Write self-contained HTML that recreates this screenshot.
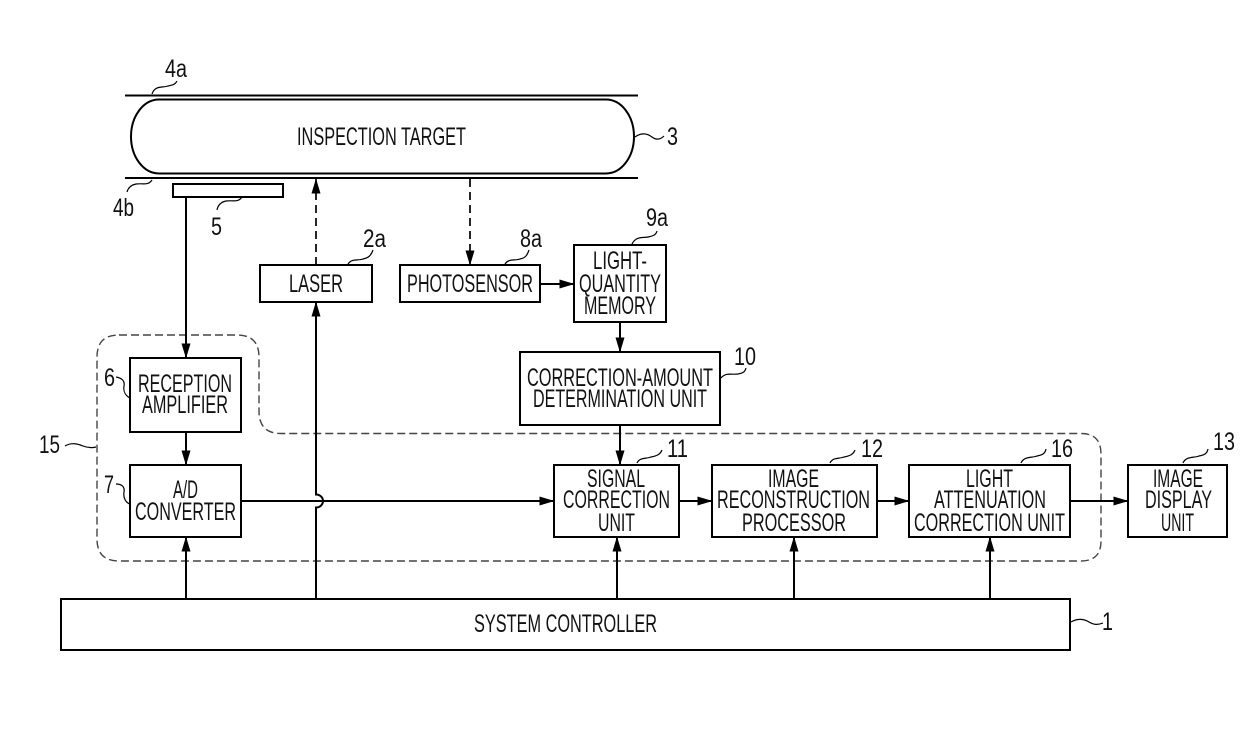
<!DOCTYPE html>
<html><head><meta charset="utf-8"><style>html,body{margin:0;padding:0;background:#fff}svg{display:block}
text{font-family:"Liberation Sans",sans-serif;font-size:25px;fill:#111;text-anchor:start}
</style></head><body>
<svg width="1240" height="745" viewBox="0 0 1240 745">
<defs><marker id="a" markerWidth="15" markerHeight="10" refX="14.5" refY="5" orient="auto" markerUnits="userSpaceOnUse"><path d="M0 0.5L15 5L0 9.5Z" fill="#000"/></marker></defs>
<g fill="none" stroke="#000" stroke-width="2">
<path d="M125 95.5H638M125 178H638"/>
<rect x="131" y="99.5" width="503" height="74" rx="28" ry="37"/>
<rect x="173" y="184" width="110" height="13"/>
<rect x="260" y="265" width="112" height="37"/>
<rect x="400" y="265" width="140" height="37"/>
<rect x="574" y="245" width="92" height="77"/>
<rect x="520" y="352" width="200" height="73"/>
<rect x="130" y="358" width="111" height="74"/>
<rect x="130" y="465" width="111" height="72"/>
<rect x="554" y="465" width="125" height="72"/>
<rect x="712" y="465" width="165" height="72"/>
<rect x="909" y="465" width="161" height="72"/>
<rect x="1128" y="465" width="99" height="72"/>
<rect x="61" y="599" width="1009" height="51"/>
<path stroke="#444" stroke-width="1.4" stroke-dasharray="8 4" d="M119 335H237Q259 335 259 357V411Q259 433.500 281 433.500H1081Q1101 433.500 1101 454V541Q1101 561 1081 561H119Q97 561 97 539V357Q97 335 119 335Z"/>
<path d="M186 197V358" marker-end="url(#a)"/>
<path d="M186 432V465" marker-end="url(#a)"/>
<path d="M186 599V537" marker-end="url(#a)"/>
<path d="M316 599V507.500A7 6.500 0 0 0 316 494.500V302" marker-end="url(#a)"/>
<path d="M316 265V179" stroke-width="1.7" stroke-dasharray="8 5" marker-end="url(#a)"/>
<path d="M470 179V265" stroke-width="1.7" stroke-dasharray="8 5" marker-end="url(#a)"/>
<path d="M540 284H574" marker-end="url(#a)"/>
<path d="M620 322V352" marker-end="url(#a)"/>
<path d="M620 425V465" marker-end="url(#a)"/>
<path d="M241 501H554" marker-end="url(#a)"/>
<path d="M679 501H712" marker-end="url(#a)"/>
<path d="M877 501H909" marker-end="url(#a)"/>
<path d="M1070 501H1128" marker-end="url(#a)"/>
<path d="M617 599V537" marker-end="url(#a)"/>
<path d="M794 599V537" marker-end="url(#a)"/>
<path d="M990 599V537" marker-end="url(#a)"/>
<g stroke-width="1.2">
<path d="M152 94C155 85 163 88 168 86C172 85 175 85 177 81"/>
<path d="M152 180C148 186 142 183 136 184C131 185 128 188 127 192"/>
<path d="M242 197C238 203 232 200 226 201C221 202 218 205 217 210"/>
<path d="M635 137C642 132 648 134 652 137C656 140 660 140 664 136"/>
<path d="M348 264C352 258 358 261 363 259C368 258 371 256 373 250"/>
<path d="M505 264C509 258 515 261 520 259C525 258 527 256 529 250"/>
<path d="M632 244C636 236 643 238 648 237C653 236 656 235 657 231"/>
<path d="M721 378C726 372 732 375 738 374C743 373 745 372 746 368"/>
<path d="M116 377C122 378 125 381 124 386C123 392 126 396 130 398"/>
<path d="M116 484C122 484 125 487 124 492C123 498 126 503 130 504"/>
<path d="M65 446C72 442 78 444 83 446C88 448 92 448 96 447"/>
<path d="M637 463C640 457 646 459 651 457C656 456 660 455 662 450"/>
<path d="M830 463C833 457 839 459 844 457C849 456 853 455 855 450"/>
<path d="M1021 463C1024 456 1032 458 1037 456C1042 455 1045 454 1046 449"/>
<path d="M1183 463C1186 456 1194 458 1199 456C1204 455 1207 454 1208 449"/>
<path d="M1071 622C1078 618 1084 619 1089 622C1094 625 1098 625 1103 623"/>
</g></g>
<text x="297" y="145" textLength="169" lengthAdjust="spacingAndGlyphs">INSPECTION TARGET</text>
<text x="289" y="292" textLength="54" lengthAdjust="spacingAndGlyphs">LASER</text>
<text x="407" y="292" textLength="126" lengthAdjust="spacingAndGlyphs">PHOTOSENSOR</text>
<text x="593" y="269" textLength="54" lengthAdjust="spacingAndGlyphs">LIGHT-</text>
<text x="579" y="292" textLength="82" lengthAdjust="spacingAndGlyphs">QUANTITY</text>
<text x="584" y="314" textLength="72" lengthAdjust="spacingAndGlyphs">MEMORY</text>
<text x="527" y="386" textLength="186" lengthAdjust="spacingAndGlyphs">CORRECTION-AMOUNT</text>
<text x="533" y="407" textLength="174" lengthAdjust="spacingAndGlyphs">DETERMINATION UNIT</text>
<text x="138" y="392" textLength="94" lengthAdjust="spacingAndGlyphs">RECEPTION</text>
<text x="142" y="413" textLength="86" lengthAdjust="spacingAndGlyphs">AMPLIFIER</text>
<text x="173" y="498" textLength="25" lengthAdjust="spacingAndGlyphs">A/D</text>
<text x="135" y="520" textLength="101" lengthAdjust="spacingAndGlyphs">CONVERTER</text>
<text x="587" y="487" textLength="58" lengthAdjust="spacingAndGlyphs">SIGNAL</text>
<text x="563" y="508" textLength="107" lengthAdjust="spacingAndGlyphs">CORRECTION</text>
<text x="598" y="531" textLength="37" lengthAdjust="spacingAndGlyphs">UNIT</text>
<text x="768" y="487" textLength="51" lengthAdjust="spacingAndGlyphs">IMAGE</text>
<text x="717" y="508" textLength="153" lengthAdjust="spacingAndGlyphs">RECONSTRUCTION</text>
<text x="742" y="531" textLength="104" lengthAdjust="spacingAndGlyphs">PROCESSOR</text>
<text x="966" y="487" textLength="47" lengthAdjust="spacingAndGlyphs">LIGHT</text>
<text x="934" y="508" textLength="112" lengthAdjust="spacingAndGlyphs">ATTENUATION</text>
<text x="914" y="531" textLength="151" lengthAdjust="spacingAndGlyphs">CORRECTION UNIT</text>
<text x="1153" y="487" textLength="50" lengthAdjust="spacingAndGlyphs">IMAGE</text>
<text x="1145" y="508" textLength="67" lengthAdjust="spacingAndGlyphs">DISPLAY</text>
<text x="1161" y="531" textLength="33" lengthAdjust="spacingAndGlyphs">UNIT</text>
<text x="474" y="632" textLength="183" lengthAdjust="spacingAndGlyphs">SYSTEM CONTROLLER</text>
<text x="165" y="77" textLength="22" lengthAdjust="spacingAndGlyphs">4a</text>
<text x="113" y="216" textLength="21" lengthAdjust="spacingAndGlyphs">4b</text>
<text x="667" y="145" textLength="11" lengthAdjust="spacingAndGlyphs">3</text>
<text x="211" y="235" textLength="11" lengthAdjust="spacingAndGlyphs">5</text>
<text x="363" y="247" textLength="23" lengthAdjust="spacingAndGlyphs">2a</text>
<text x="520" y="247" textLength="22" lengthAdjust="spacingAndGlyphs">8a</text>
<text x="646" y="226" textLength="22" lengthAdjust="spacingAndGlyphs">9a</text>
<text x="734" y="365" textLength="22" lengthAdjust="spacingAndGlyphs">10</text>
<text x="104" y="386" textLength="11" lengthAdjust="spacingAndGlyphs">6</text>
<text x="104" y="493" textLength="10" lengthAdjust="spacingAndGlyphs">7</text>
<text x="39" y="453" textLength="21" lengthAdjust="spacingAndGlyphs">15</text>
<text x="667" y="457" textLength="21" lengthAdjust="spacingAndGlyphs">11</text>
<text x="861" y="457" textLength="22" lengthAdjust="spacingAndGlyphs">12</text>
<text x="1051" y="457" textLength="22" lengthAdjust="spacingAndGlyphs">16</text>
<text x="1213" y="450" textLength="22" lengthAdjust="spacingAndGlyphs">13</text>
<text x="1102" y="630" textLength="11" lengthAdjust="spacingAndGlyphs">1</text>
</svg></body></html>
